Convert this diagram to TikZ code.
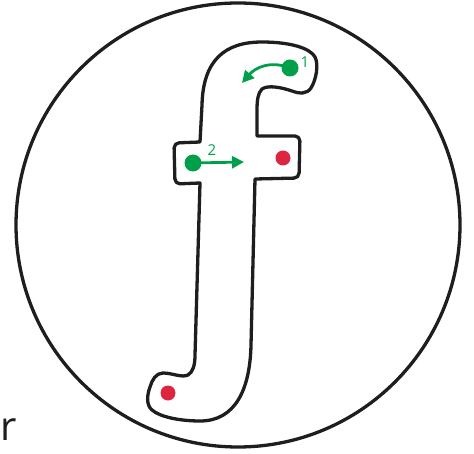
\documentclass[tikz,border=0pt]{standalone}
\usepackage{fontspec}
\setmainfont{Open Sans}
\usetikzlibrary{arrows.meta}
\definecolor{fgreen}{RGB}{0,160,75}
\definecolor{fred}{RGB}{220,38,64}
\definecolor{fline}{RGB}{30,30,30}
\tikzset{
  outline/.style={draw=fline,line width=3.3pt,line join=round},
  gdot/.style={circle,fill=fgreen,inner sep=0pt,minimum size=17pt},
  rdot/.style={circle,fill=fred,inner sep=0pt,minimum size=15pt},
  garrow/.style={draw=fgreen,line width=2.8pt,-{Triangle[length=12pt,width=12pt]}},
  glabel/.style={text=fgreen,font=\fontsize{15}{15}\selectfont,inner sep=0pt}
}
\begin{document}
\begin{tikzpicture}[x=1pt,y=1pt]
\useasboundingbox (0,0) rectangle (474,-454);
% big circle
\node[outline,circle,minimum size=444pt,inner sep=0pt] (ring) at (238,-225) {};
% letter f outline
\draw[outline]
  (200,-142) -- (202,-105)
  .. controls (203,-60) and (225,-42) .. (262,-42)
  .. controls (290,-42) and (310,-48) .. (315,-57)
  .. controls (319,-65) and (316,-80) .. (311,-88)
  .. controls (307,-94) and (300,-94) .. (292,-91)
  .. controls (280,-87) and (268,-85) .. (262,-89)
  .. controls (258,-93) and (257,-100) .. (257,-110)
  -- (257,-136)
  [rounded corners=5pt] -- (300,-136) -- (299,-178) [sharp corners] -- (255,-179)
  -- (251,-345)
  .. controls (250,-390) and (235,-421) .. (200,-421)
  .. controls (180,-421) and (160,-417) .. (152,-410)
  .. controls (146,-405) and (147,-395) .. (150,-387)
  .. controls (152,-380) and (156,-373) .. (163,-373)
  .. controls (172,-373) and (182,-378) .. (188,-375)
  .. controls (193,-372) and (195,-365) .. (195,-355)
  -- (200,-183)
  [rounded corners=5pt] -- (175,-184) -- (174,-143) [sharp corners] -- cycle;
% dots
\node[gdot] (g1) at (290,-68) {};
\node[gdot] (g2) at (193,-163) {};
\node[rdot] (r1) at (283,-158) {};
\node[rdot] (r2) at (168,-393) {};
\coordinate (t1) at (242,-83);
\coordinate (t2) at (244,-162);
\draw[garrow] (g1.center) .. controls (270,-60) and (255,-68) .. (t1);
\draw[garrow] (g2.center) -- (t2);
\node[glabel] (l1) at (305,-62) {1};
\node[glabel] (l2) at (212,-150) {2};
% letter at left edge
\node[anchor=base west,inner sep=0pt,text=fline,font=\fontsize{40}{40}\selectfont] (rr) at (0.5,-440) {r};
\end{tikzpicture}
\end{document}
